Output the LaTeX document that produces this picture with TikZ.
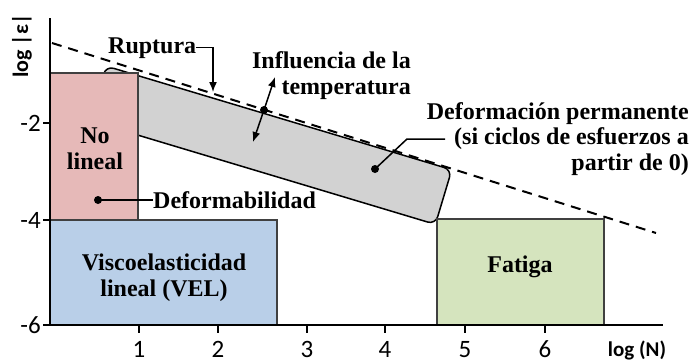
\documentclass[tikz,border=0pt]{standalone}
\usepackage{fontspec}
\setmainfont{Liberation Serif}
\newfontfamily\numfont{Carlito}
\usetikzlibrary{arrows.meta}

\definecolor{nolin}{HTML}{E6B9B8}
\definecolor{velin}{HTML}{B9CFE8}
\definecolor{fatig}{HTML}{D5E4BE}
\definecolor{perma}{HTML}{D2D2D2}

\begin{document}
\begin{tikzpicture}[x=1pt, y=-1pt,
		zone/.style={draw=black!75, line width=1.2pt},
		lbl/.style={font=\fontsize{24}{26}\selectfont\bfseries, inner sep=0pt},
		num/.style={font=\fontsize{25}{27}\selectfont\numfont, inner sep=0pt},
		pin/.style={circle, fill=black, inner sep=0pt, minimum size=8pt},
		lead/.style={line width=1.5pt}]
		\useasboundingbox (0,0) rectangle (694,362);

		\coordinate (rupt-a) at (52, 43);
		\coordinate (rupt-b) at (656, 233);
		\coordinate (rupt-hit) at (213, 92);
		\coordinate (temp-hi) at (275, 77);
		\coordinate (temp-lo) at (253, 142);
		\coordinate (perm-knee) at (407, 139);
		\coordinate (perm-end) at (445, 139);

		\node[draw, fill=perma, line width=1.5pt, rounded corners=8pt, inner sep=0pt,
			minimum width=361pt, minimum height=57pt, rotate=-16.7] (band) at (270.7, 145.2) {};

		\draw[zone, fill=nolin] (50, 73) rectangle (138, 220);
		\draw[zone, fill=velin] (50, 220) rectangle (277, 325);
		\draw[zone, fill=fatig] (437, 219) rectangle (604, 325);

		\draw[line width=2pt, dash pattern=on 10pt off 7pt] (rupt-a) -- (rupt-b);

		\draw[line width=2.5pt] (50, 18) -- (50, 325) -- (663, 325);
		\foreach \y/\t in {123/-2, 220/-4, 325/-6} {
			\draw[line width=2pt] (43, \y) -- (50, \y);
			\node[num, anchor=east] at (41, \y) {\t};
		}
		\foreach \x/\t in {139/1, 218/2, 307/3, 385/4, 465/5, 545/6} {
			\draw[line width=2pt] (\x, 325) -- (\x, 333);
			\node[num, anchor=base] at (\x, 357) {\t};
		}
		\node[num, font=\fontsize{21}{24}\selectfont\numfont\bfseries, anchor=base] (xlabel) at (637, 356) {log (N)};
		\node[num, font=\fontsize{22}{24}\selectfont\numfont\bfseries, rotate=90] (ylabel) at (22, 46) {log |ε|};

		\node[lbl, align=center] (nolineal) at (95, 149) {No\\lineal};
		\node[lbl, align=center] (vel) at (164, 278) {Viscoelasticidad\\lineal (VEL)};
		\node[lbl] (fatiga) at (520, 267) {Fatiga};

		\node[lbl, anchor=base west] (ruptura) at (108, 53) {Ruptura};
		\draw[lead, -{Latex[length=10pt, width=8pt]}] (ruptura.east) -| (rupt-hit);

		\node[lbl, align=right, anchor=north east] (temp) at (411, 51) {Influencia de la\\temperatura};
		\node[pin] (temp-dot) at (264, 110) {};
		\draw[lead, -{Latex[length=10pt, width=8pt]}] (temp-dot.center) -- (temp-hi);
		\draw[lead, -{Latex[length=10pt, width=8pt]}] (temp-dot.center) -- (temp-lo);

		\node[lbl, align=right, anchor=north east, font=\fontsize{24}{25.5}\selectfont\bfseries] (perm) at (689, 102) {Deformación permanente\\(si ciclos de esfuerzos a\\partir de 0)};
		\node[pin] (perm-dot) at (375, 169) {};
		\draw[lead] (perm-dot.center) -- (perm-knee) -- (perm-end);

		\node[pin] (def-dot) at (98, 200) {};
		\node[lbl, anchor=west] (deform) at (153, 200) {Deformabilidad};
		\draw[lead] (def-dot.center) -- (deform.west);
	\end{tikzpicture}
\end{document}
